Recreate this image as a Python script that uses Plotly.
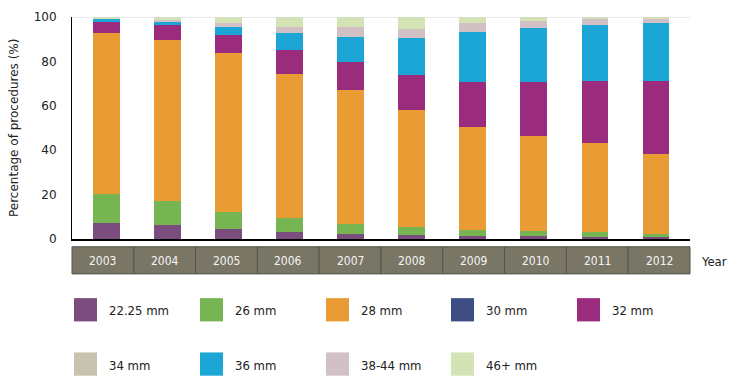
import plotly.graph_objects as go

years = ["2003", "2004", "2005", "2006", "2007", "2008", "2009", "2010", "2011", "2012"]
sizes = ["22.25 mm", "26 mm", "28 mm", "30 mm", "32 mm", "34 mm", "36 mm", "38-44 mm", "46+ mm"]

s_2225 = [7.0, 6.3, 4.3, 3.2, 2.2, 1.8, 1.4, 1.2, 1.1, 1.0]
s_26 = [13.3, 11.0, 8.0, 6.3, 4.4, 3.6, 2.8, 2.2, 2.1, 1.3]
s_28 = [72.5, 72.5, 71.6, 64.7, 60.6, 52.7, 46.3, 42.8, 40.0, 36.0]
s_30 = [0.0, 0.0, 0.0, 0.0, 0.0, 0.0, 0.0, 0.0, 0.0, 0.0]
s_32 = [4.8, 6.5, 8.0, 11.1, 12.6, 15.6, 20.2, 24.6, 28.1, 32.9]
s_34 = [0.0, 0.0, 0.0, 0.0, 0.0, 0.0, 0.0, 0.0, 0.0, 0.0]
s_36 = [1.6, 1.8, 3.4, 7.6, 11.3, 16.7, 22.7, 24.1, 25.3, 25.9]
s_3844 = [0.3, 0.5, 2.1, 2.4, 4.2, 4.4, 3.9, 3.4, 2.6, 2.4]
s_46 = [0.5, 1.4, 2.6, 4.7, 4.7, 5.2, 2.7, 1.7, 0.8, 0.5]

series = [s_2225, s_26, s_28, s_30, s_32, s_34, s_36, s_3844, s_46]
colors = ["#7B4C7E", "#77B452", "#E89C33", "#3F4D85", "#9B2C7D",
          "#C8C3B1", "#1BA6D6", "#D2C1C4", "#D3E3B4"]

y_ticks = [0, 20, 40, 60, 80, 100]

FONT = "DejaVu Sans"
W, H = 733, 384
L, R, T, B = 72, 690, 10, 239  # plot area in pixels


def px(xp):
    return (xp - L) / (R - L)


def py(yp):
    return (B - yp) / (B - T)


fig = go.Figure()
xs = list(range(len(years)))
for name, vals, col in zip(sizes, series, colors):
    fig.add_trace(go.Bar(x=xs, y=vals, name=name, marker=dict(color=col, line=dict(width=0)),
                         width=0.44, showlegend=False))

shapes = []
annotations = []

# top line at 100
shapes.append(dict(type="line", xref="paper", yref="y", x0=0, x1=1, y0=100, y1=100,
                   line=dict(color="#D4D4D4", width=1)))

# year table
n = len(years)
for i, yr in enumerate(years):
    shapes.append(dict(type="rect", xref="paper", yref="paper",
                       x0=i / n, x1=(i + 1) / n, y0=py(275), y1=py(247),
                       fillcolor="#7A7666", line=dict(color="#55544B", width=1), layer="above"))
    annotations.append(dict(xref="paper", yref="paper", x=(i + 0.5) / n, y=py(261.5),
                            text=yr, showarrow=False, xanchor="center", yanchor="middle",
                            font=dict(family="DejaVu Sans Condensed, " + FONT, size=12, color="#F4F4F4")))
annotations.append(dict(xref="paper", yref="paper", x=px(699), y=py(262), text="Year",
                        showarrow=False, xanchor="left", yanchor="middle",
                        font=dict(family="DejaVu Sans Condensed, " + FONT, size=13, color="#222222")))

# y axis title
annotations.append(dict(xref="paper", yref="paper", x=px(14), y=0.5, text="Percentage of procedures (%)",
                        textangle=-90, showarrow=False, xanchor="center", yanchor="middle",
                        font=dict(family=FONT, size=12, color="#222222")))

# custom legend
col_x = [74, 200, 326, 451, 577]
row_y = [300, 356]
for k, (name, col) in enumerate(zip(sizes, colors)):
    r, c = divmod(k, 5)
    x0 = col_x[c]
    y0 = row_y[r]
    shapes.append(dict(type="rect", xref="paper", yref="paper",
                       x0=px(x0), x1=px(x0 + 23), y0=py(y0 + 24), y1=py(y0),
                       fillcolor=col, line=dict(width=0)))
    annotations.append(dict(xref="paper", yref="paper", x=px(x0 + 33), y=py(y0 + 13),
                            text=name, showarrow=False, xanchor="left", yanchor="middle",
                            font=dict(family="DejaVu Sans Condensed, " + FONT, size=13, color="#222222")))

fig.update_layout(
    width=W, height=H,
    margin=dict(l=L, r=W - R, t=T, b=H - B),
    barmode="stack",
    plot_bgcolor="white", paper_bgcolor="white",
    font=dict(family=FONT, size=12, color="#333333"),
    xaxis=dict(range=[-0.565, 9.556], showticklabels=False, showgrid=False, zeroline=False,
               showline=True, linecolor="#000000", linewidth=1.5, ticks=""),
    yaxis=dict(range=[0, 100], tickvals=y_ticks, ticktext=[str(v) for v in y_ticks],
               showgrid=False, zeroline=False, showline=True, linecolor="#000000", linewidth=1,
               ticks="", ticklabelstandoff=12, tickfont=dict(family=FONT, size=12, color="#222222")),
    shapes=shapes, annotations=annotations,
)

fig.write_html("out.html", config={"displayModeBar": False},
               post_script="document.body.style.margin='0';document.body.style.overflow='hidden';")
